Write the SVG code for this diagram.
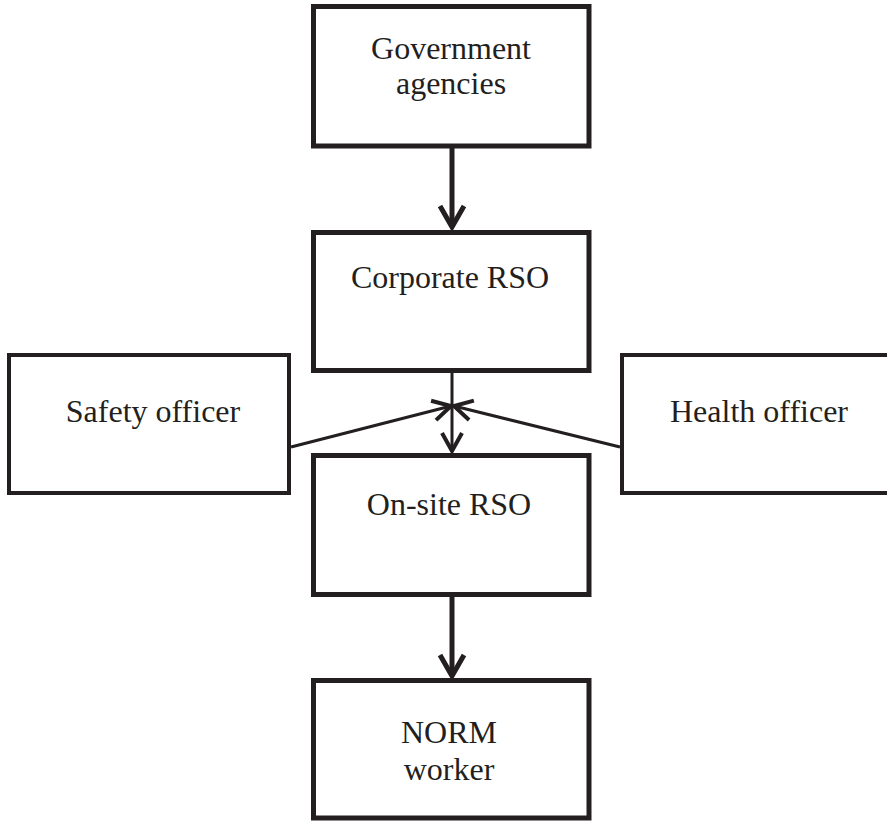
<svg xmlns="http://www.w3.org/2000/svg" width="887" height="822" viewBox="0 0 887 822">
  <style>
    .box { fill: #ffffff; stroke: #231f20; stroke-width: 5; }
    .side { fill: #ffffff; stroke: #231f20; stroke-width: 4; }
    .label { font-family: "Liberation Serif", "Times New Roman", serif; font-size: 32px; fill: #231f20; text-anchor: middle; }
    .thick { stroke: #231f20; stroke-width: 5; fill: none; }
    .thin { stroke: #231f20; stroke-width: 3; fill: none; }
  </style>
  <defs>
    <marker id="chev-big" markerUnits="userSpaceOnUse" viewBox="-26 -16 30 32" refX="0" refY="0" markerWidth="30" markerHeight="32" orient="auto">
      <path d="M-21,-12 L0,0 L-21,12" fill="none" stroke="#231f20" stroke-width="5" stroke-linejoin="miter"/>
    </marker>
    <marker id="chev-small" markerUnits="userSpaceOnUse" viewBox="-26 -16 30 32" refX="0" refY="0" markerWidth="30" markerHeight="32" orient="auto">
      <path d="M-18,-10 L0,0 L-18,10" fill="none" stroke="#231f20" stroke-width="4" stroke-linejoin="miter"/>
    </marker>
  </defs>

  <g id="connectors">
    <line class="thick" x1="452" y1="148" x2="452" y2="227" marker-end="url(#chev-big)"/>
    <line class="thin" x1="452" y1="373" x2="452" y2="451" marker-end="url(#chev-small)"/>
    <line class="thin" x1="291" y1="447" x2="451" y2="406" marker-end="url(#chev-small)"/>
    <line class="thin" x1="620" y1="447" x2="454" y2="406" marker-end="url(#chev-small)"/>
    <line class="thick" x1="452" y1="597" x2="452" y2="676" marker-end="url(#chev-big)"/>
  </g>

  <g id="government">
    <rect class="box" x="313.5" y="6.5" width="275.5" height="139.5"/>
    <text class="label" x="451" y="59">Government</text>
    <text class="label" x="451" y="94">agencies</text>
  </g>

  <g id="corporate-rso">
    <rect class="box" x="313.5" y="232.5" width="275.5" height="138"/>
    <text class="label" x="450" y="288">Corporate RSO</text>
  </g>

  <g id="safety-officer">
    <rect class="side" x="9" y="355" width="280" height="138"/>
    <text class="label" x="153" y="422">Safety officer</text>
  </g>

  <g id="health-officer">
    <rect class="side" x="622" y="355" width="280" height="138"/>
    <text class="label" x="759" y="422">Health officer</text>
  </g>

  <g id="onsite-rso">
    <rect class="box" x="313.5" y="455.5" width="275.5" height="139"/>
    <text class="label" x="449" y="515">On-site RSO</text>
  </g>

  <g id="norm-worker">
    <rect class="box" x="313.5" y="680.5" width="275.5" height="137.5"/>
    <text class="label" x="449" y="743">NORM</text>
    <text class="label" x="449" y="780">worker</text>
  </g>
</svg>
